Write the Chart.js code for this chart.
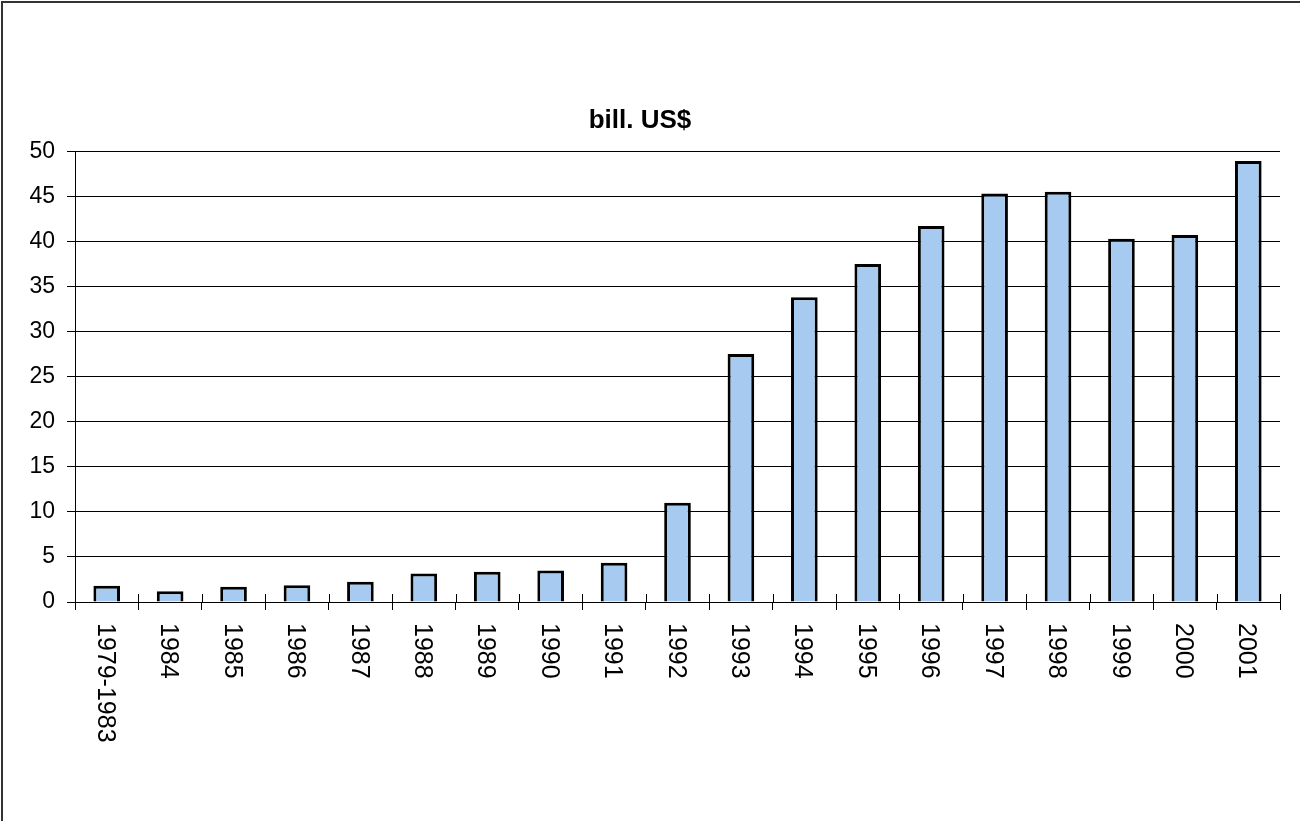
<!DOCTYPE html>
<html lang="en">
<head>
<meta charset="UTF-8">
<script src="https://cdn.jsdelivr.net/npm/chart.js@4.4.1/dist/chart.umd.min.js"></script>
<style>
  html, body { margin: 0; padding: 0; background: #fff; }
  #wrap { position: relative; width: 1300px; height: 821px; }
  #frame { position: absolute; left: 1px; top: 1px; right: 0; bottom: 0;
           border-top: 2px solid #333; border-left: 2px solid #333; pointer-events: none; }
</style>
</head>
<body>
<div id="wrap">
  <canvas id="chart" width="1300" height="821"></canvas>
  <div id="frame"></div>
</div>
<script>
// data
var years = ['1979-1983', '1984', '1985', '1986', '1987', '1988', '1989', '1990', '1991', '1992',
             '1993', '1994', '1995', '1996', '1997', '1998', '1999', '2000', '2001'];
var billUSD = [1.8, 1.2, 1.7, 1.85, 2.25, 3.15, 3.35, 3.5, 4.35, 11.0,
               27.5, 33.8, 37.5, 41.7, 45.3, 45.5, 40.3, 40.7, 48.9];
var yTicks = { min: 0, max: 50, step: 5 };
var titleText = 'bill. US$';

var fontFamily = "'Liberation Sans', Arial, sans-serif";

// x labels read top-to-bottom, chart.js only rotates the other way, so draw them here
var verticalLabels = {
    id: 'verticalLabels',
    afterDraw: function (chart) {
        var ctx = chart.ctx;
        var x = chart.scales.x;
        var step = x.getPixelForValue(1) - x.getPixelForValue(0);
        ctx.save();
        // small tick marks above the axis too
        ctx.strokeStyle = '#000';
        ctx.lineWidth = 1;
        ctx.beginPath();
        for (var i = 0; i <= years.length; i++) {
            var bx = Math.round(x.getPixelForValue(i) - step / 2) + 0.5;
            ctx.moveTo(bx, x.top - 8);
            ctx.lineTo(bx, x.top);
        }
        ctx.stroke();
        ctx.fillStyle = '#000';
        ctx.font = '25px ' + fontFamily;
        ctx.textAlign = 'left';
        ctx.textBaseline = 'middle';
        for (var j = 0; j < years.length; j++) {
            ctx.save();
            ctx.translate(x.getPixelForValue(j) - 2, x.top + 21);
            ctx.rotate(Math.PI / 2);
            ctx.fillText(years[j], 0, 0);
            ctx.restore();
        }
        ctx.restore();
    }
};

var ctx = document.getElementById('chart').getContext('2d');
var chart = new Chart(ctx, {
    type: 'bar',
    data: {
        labels: years,
        datasets: [{
            label: titleText,
            data: billUSD,
            backgroundColor: '#a6caf0',
            borderColor: '#000',
            borderWidth: 3,
            barPercentage: 0.42,
            categoryPercentage: 1.0
        }]
    },
    options: {
        responsive: false,
        animation: false,
        layout: { padding: { left: 0, right: 20, top: 0, bottom: 0 } },
        plugins: {
            legend: { display: false },
            tooltip: { enabled: false },
            title: {
                display: true,
                text: titleText,
                color: '#000',
                font: { family: fontFamily, size: 26, weight: 'bold' },
                padding: { top: 105, bottom: 15 }
            }
        },
        scales: {
            x: {
                grid: {
                    offset: true,
                    drawOnChartArea: false,
                    drawTicks: true,
                    tickLength: 8,
                    color: '#000'
                },
                border: { display: true, color: '#000', width: 1 },
                ticks: { display: false },
                afterFit: function (scale) { scale.height = 219; }
            },
            y: {
                min: yTicks.min,
                max: yTicks.max,
                grid: { color: '#000', tickLength: 8, drawTicks: true },
                border: { display: true, color: '#000', width: 1 },
                ticks: {
                    stepSize: yTicks.step,
                    color: '#000',
                    padding: 12,
                    font: { family: fontFamily, size: 23 }
                },
                afterFit: function (scale) { scale.width = 75; }
            }
        }
    },
    plugins: [verticalLabels]
});
</script>
</body>
</html>
